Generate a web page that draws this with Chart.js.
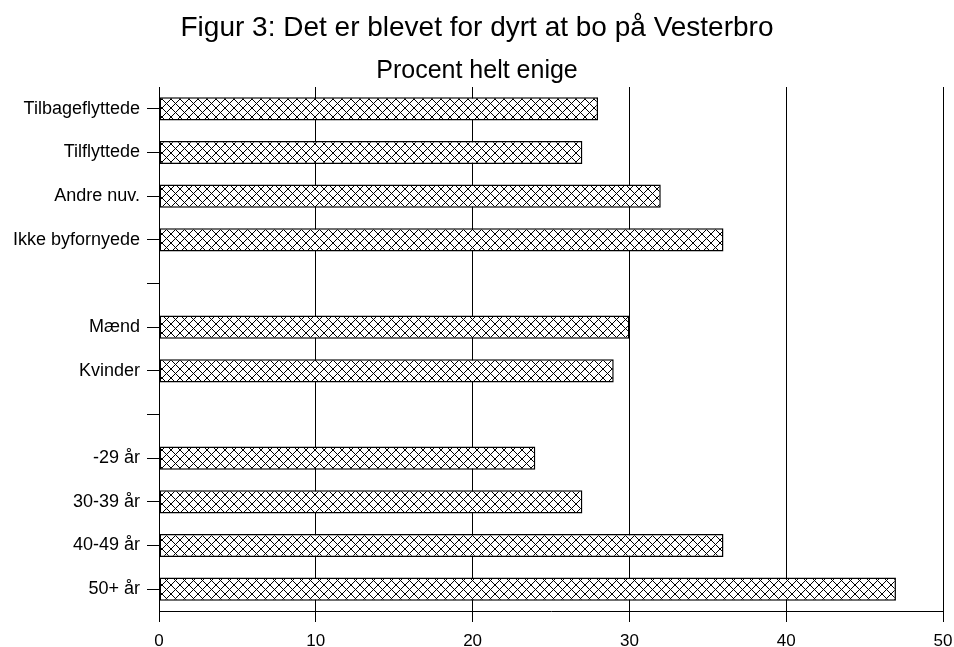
<!DOCTYPE html>
<html>
<head>
<meta charset="utf-8">
<script src="https://cdn.jsdelivr.net/npm/chart.js@4/dist/chart.umd.min.js"></script>
<style>
  html, body { margin: 0; padding: 0; background: #fff; }
  #wrap { width: 954px; height: 647px; }
</style>
</head>
<body>
<div id="wrap"><canvas id="chart-vesterbro"></canvas></div>
<script>
// data
var grupper = ["Tilbageflyttede", "Tilflyttede", "Andre nuv.", "Ikke byfornyede", "",
               "Mænd", "Kvinder", "",
               "-29 år", "30-39 år", "40-49 år", "50+ år"];
var procent = [28, 27, 32, 36, null, 30, 29, null, 24, 27, 36, 47];
var xTicks = [0, 10, 20, 30, 40, 50];
var titel = "Figur 3: Det er blevet for dyrt at bo på Vesterbro";
var undertitel = "Procent helt enige";

var FONT = "'Liberation Sans', Arial, sans-serif";

// crosshatch fill like the old printout
function lavMoenster() {
    var s = 9;
    var c = document.createElement("canvas");
    c.width = s; c.height = s;
    var g = c.getContext("2d");
    g.fillStyle = "#fff";
    g.fillRect(0, 0, s, s);
    g.strokeStyle = "#000";
    g.lineWidth = 1;
    g.beginPath();
    g.moveTo(0, 0); g.lineTo(s, s);
    g.moveTo(s, 0); g.lineTo(0, s);
    g.stroke();
    return g.createPattern(c, "repeat");
}

// titles drawn by hand (baseline placed like the original)
var titlerPlugin = {
    id: "titler",
    afterDraw: function (chart) {
        var ctx = chart.ctx;
        var midt = chart.width / 2;
        ctx.save();
        ctx.fillStyle = "#000";
        ctx.textAlign = "center";
        ctx.textBaseline = "alphabetic";
        ctx.font = "28px " + FONT;
        ctx.fillText(titel, midt, 36);
        ctx.font = "25px " + FONT;
        ctx.fillText(undertitel, midt, 78);
        ctx.restore();
    }
};

var ctx = document.getElementById("chart-vesterbro").getContext("2d");
var myChart = new Chart(ctx, {
    type: "bar",
    data: {
        labels: grupper,
        datasets: [{
            label: undertitel,
            data: procent,
            backgroundColor: lavMoenster(),
            borderColor: "#000",
            borderWidth: 1.5,
            borderSkipped: false,
            categoryPercentage: 1,
            barPercentage: 0.53
        }]
    },
    options: {
        indexAxis: "y",
        responsive: true,
        maintainAspectRatio: false,
        animation: false,
        layout: { padding: { top: 87, right: 11, left: 0, bottom: 0 } },
        plugins: {
            legend: { display: false },
            tooltip: { enabled: false },
            title: { display: false }
        },
        scales: {
            x: {
                min: 0,
                max: 50,
                afterBuildTicks: function (axis) {
                    axis.ticks = xTicks.map(function (v) { return { value: v }; });
                },
                afterFit: function (axis) {
                    axis.height = 36;
                    axis.paddingLeft = 0;
                    axis.paddingRight = 0;
                },
                grid: {
                    color: "#000",
                    lineWidth: 1,
                    tickLength: 11,
                    drawOnChartArea: true
                },
                border: { display: true, color: "#000", width: 1 },
                ticks: {
                    color: "#000",
                    font: { family: FONT, size: 17 },
                    padding: 9,
                    maxRotation: 0
                }
            },
            y: {
                afterFit: function (axis) { axis.width = 159; },
                grid: {
                    color: "#000",
                    lineWidth: 1,
                    tickLength: 12,
                    offset: false,
                    drawOnChartArea: false
                },
                border: { display: true, color: "#000", width: 1 },
                ticks: {
                    color: "#000",
                    font: { family: FONT, size: 18 },
                    padding: 7,
                    autoSkip: false
                }
            }
        }
    },
    plugins: [titlerPlugin]
});
</script>
</body>
</html>
